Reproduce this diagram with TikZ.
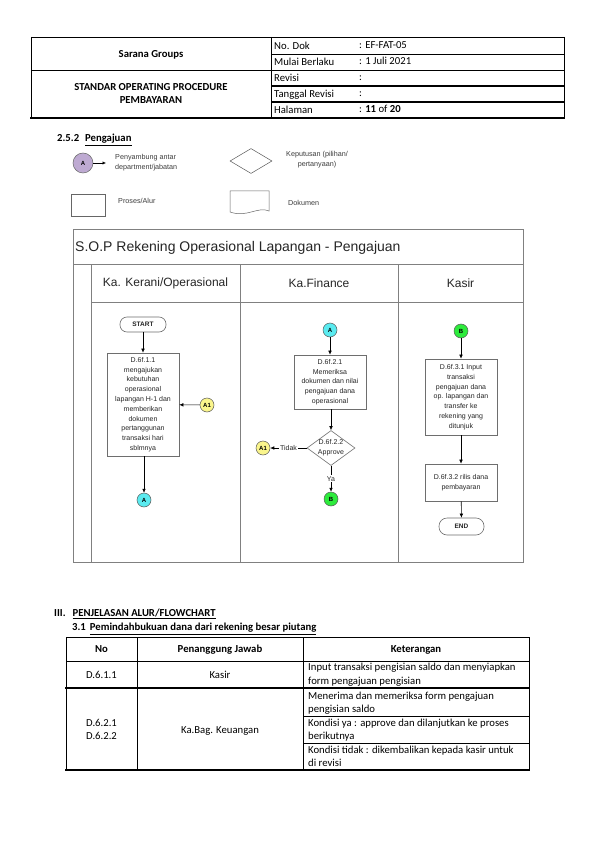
\documentclass[tikz,border=0pt]{standalone}
\usepackage{fontspec}
\setmainfont{Carlito}
\newfontfamily\arial{Liberation Sans}
\usetikzlibrary{shapes.geometric,arrows.meta}
\definecolor{fcgrey}{RGB}{128,128,128}
\definecolor{boxgrey}{RGB}{110,110,110}
\definecolor{cyanA}{RGB}{90,235,240}
\definecolor{yellowA}{RGB}{250,245,140}
\definecolor{greenB}{RGB}{45,235,60}
\definecolor{purpleA}{RGB}{190,170,210}
\definecolor{legtext}{RGB}{60,60,60}
\tikzset{
  doctext/.style={inner sep=0pt, anchor=base west, font=\fontsize{10.7}{14}\selectfont},
  docmid/.style={inner sep=0pt, anchor=base, font=\fontsize{10.7}{14}\selectfont},
  docbold/.style={inner sep=0pt, anchor=base, font=\bfseries\fontsize{10.7}{13}\selectfont},
  thinl/.style={line width=0.7pt},
  thickl/.style={line width=1.5pt},
  frame/.style={draw=fcgrey, line width=0.8pt},
  proc/.style={draw=boxgrey, fill=white, line width=0.6pt, align=center, inner sep=0pt,
    font=\arial\fontsize{7}{9.8}\selectfont, text=black!85},
  term/.style={draw=boxgrey, fill=white, line width=0.6pt, rounded corners=7pt, inner sep=0pt,
    font=\arial\bfseries\fontsize{6.5}{8}\selectfont, text=black!85},
  conn/.style={circle, draw=black!65, line width=0.5pt, minimum size=14pt, inner sep=0pt,
    font=\arial\bfseries\fontsize{6}{7}\selectfont},
  arr/.style={-{Latex[length=4pt,width=3.6pt]}, line width=0.55pt},
  lane/.style={inner sep=0pt, font=\arial\fontsize{12}{14}\selectfont, text=black!85},
  leg/.style={inner sep=0pt, align=center, font=\arial\fontsize{7.2}{10}\selectfont, text=legtext},
  flab/.style={inner sep=1pt, fill=white, font=\arial\fontsize{7}{8}\selectfont, text=black!85},
}
\begin{document}
\begin{tikzpicture}[x=1pt,y=-1pt]
\useasboundingbox[fill=white] (0,0) rectangle (595,842);

% ---------------- header table ----------------
\draw[thinl] (31,37) -- (564,37);
\draw[thinl] (31,37) -- (31,118);
\draw[thinl] (564,37) -- (564,118);
\draw[thinl] (271,37) -- (271,118);
\draw[thinl] (31,70) -- (564,70);
\draw[thinl] (271,54) -- (564,54);
\draw[thickl] (271,86) -- (564,86);
\draw[thickl] (271,102) -- (564,102);
\draw[thickl] (30.3,118) -- (564.7,118);

\node[docbold] (sg) at (151,57.5) {Sarana Groups};
\node[docbold] (sop1) at (151,91) {STANDAR OPERATING PROCEDURE};
\node[docbold] (sop2) at (151,104) {PEMBAYARAN};
\node[doctext] (l1) at (274,49.5) {No. Dok};
\node[doctext] (l2) at (274,66) {Mulai Berlaku};
\node[doctext] (l3) at (274,82) {Revisi};
\node[doctext] (l4) at (274,98) {Tanggal Revisi};
\node[doctext] (l5) at (274,114) {Halaman};
\node[doctext] (v1) at (359,48.5) {: EF-FAT-05};
\node[doctext] (v2) at (359,65) {: 1 Juli 2021};
\node[doctext] (v3) at (359,81) {:};
\node[doctext] (v4) at (359,97) {:};
\node[doctext] (v5) at (359,113) {: \textbf{11} of \textbf{20}};

% ---------------- legend ----------------
\node[docbold, anchor=base west] (h252) at (57,141.5) {2.5.2\hspace{6pt}\underline{Pengajuan}};

\node[circle, draw=black!60, fill=purpleA, line width=0.5pt, minimum size=20pt, inner sep=0pt,
  font=\arial\bfseries\fontsize{6}{7}\selectfont] (legA) at (83,163) {A};
\coordinate (legAend) at (106,163);
\draw[-{Latex[length=3.5pt,width=3.2pt]}, line width=0.5pt] (legA) -- (legAend);
\node[leg, align=left, anchor=west] (legAt) at (115,163) {Penyambung antar\\department/jabatan};

\node[diamond, draw=black!65, line width=0.5pt, minimum width=42pt, minimum height=25pt, inner sep=0pt] (legD) at (251,161) {};
\node[leg, anchor=west] (legDt) at (286,160) {Keputusan (pilihan/\\pertanyaan)};

\node[draw=black!60, line width=0.5pt, minimum width=34pt, minimum height=22pt, inner sep=0pt] (legP) at (88,205) {};
\node[leg, anchor=west] (legPt) at (118,201) {Proses/Alur};

\draw[draw=black!60, line width=0.5pt] (230,191) -- (269,191) -- (269,211)
   .. controls (258,206) and (247,218) .. (230,212) -- cycle;
\node[leg, anchor=west] (legDoct) at (288,203) {Dokumen};

% ---------------- flowchart frame ----------------
\draw[frame] (73,229) -- (523,229) -- (523,562) -- (73,562) -- cycle;
\draw[draw=fcgrey, line width=1.6pt] (73,264.5) -- (523,264.5);
\draw[frame] (91,264.5) -- (91,562);
\draw[frame] (240,264.5) -- (240,562);
\draw[frame] (398,264.5) -- (398,562);
\draw[frame] (91,302) -- (523,302);

\node[inner sep=0pt, anchor=west, font=\arial\fontsize{14}{16}\selectfont, text=black!85] (title) at (75,247.5) {S.O.P Rekening Operasional Lapangan - Pengajuan};
\node[lane] (lane1) at (165.5,283) {Ka. Kerani/Operasional};
\node[lane] (lane2) at (319,283) {Ka.Finance};
\node[lane] (lane3) at (460.5,283) {Kasir};

% lane 1
\node[term, minimum width=46pt, minimum height=15pt] (start) at (143,324.5) {START};
\node[proc, minimum width=72pt, minimum height=103pt] (p1) at (143,404.5)
  {D.6f.1.1\\mengajukan\\kebutuhan\\operasional\\lapangan H-1 dan\\memberikan\\dokumen\\pertanggunan\\transaksi hari\\sblmnya};
\node[conn, fill=yellowA] (a1a) at (207,405) {A1};
\node[conn, fill=cyanA] (aout) at (144,500) {A};
\draw[arr] (start) -- (p1);
\draw[arr] (a1a) -- (p1);
\draw[arr] (p1.south -| aout) -- (aout);

% lane 2
\node[conn, fill=cyanA] (ain) at (330,330) {A};
\node[proc, minimum width=72pt, minimum height=54pt] (p2) at (330,382)
  {D.6f.2.1\\Memeriksa\\dokumen dan nilai\\pengajuan dana\\operasional};
\node[diamond, draw=boxgrey, fill=white, line width=0.6pt, minimum width=48pt, minimum height=35pt, inner sep=0pt] (dec) at (331,448) {};
\node[proc, draw=none, fill=none] (dect) at (331,448) {D.6f.2.2\\Approve};
\node[conn, fill=yellowA] (a1b) at (263,448) {A1};
\node[conn, fill=greenB] (bout) at (331,499) {B};
\draw[arr] (ain) -- (p2.north -| ain);
\draw[arr] (p2.south -| dec) -- (dec.north);
\draw[arr] (dec.west) -- node[flab] (tidak) {Tidak} (a1b);
\draw[arr] (dec.south) -- node[flab] (ya) {Ya} (bout);

% lane 3
\node[conn, fill=greenB] (bin) at (461,331) {B};
\node[proc, minimum width=72pt, minimum height=76pt] (p3) at (461,397)
  {D.6f.3.1 Input\\transaksi\\pengajuan dana\\op. lapangan dan\\transfer ke\\rekening yang\\ditunjuk};
\node[proc, minimum width=72pt, minimum height=37pt] (p4) at (461,482.5)
  {D.6f.3.2 rilis dana\\pembayaran};
\node[term, minimum width=45pt, minimum height=17pt, rounded corners=8pt] (endn) at (461.5,526.5) {END};
\draw[arr] (bin) -- (p3);
\draw[arr] (p3) -- (p4);
\draw[arr] (p4) -- (endn);

% ---------------- section III ----------------
\node[docbold, anchor=base west] (s3) at (54,616.5) {III.\hspace{7pt}\underline{PENJELASAN ALUR/FLOWCHART}};
\node[docbold, anchor=base west] (s31) at (72,630.5) {3.1\hspace{4pt}\underline{Pemindahbukuan dana dari rekening besar piutang}};

% table
\draw[thinl] (66,637) -- (529,637);
\draw[thinl] (66,661) -- (529,661);
\draw[thinl] (66,637) -- (66,770);
\draw[thinl] (137,637) -- (137,770);
\draw[thinl] (303,637) -- (303,770);
\draw[thinl] (529,637) -- (529,770);
\draw[thinl] (303,716) -- (529,716);
\draw[thinl] (303,743) -- (529,743);
\draw[thickl] (65.3,688) -- (529.7,688);
\draw[thickl] (65.3,770) -- (529.7,770);

\node[docbold] (tno) at (101.5,652.5) {No};
\node[docbold] (tpj) at (220,652.5) {Penanggung Jawab};
\node[docbold] (tket) at (416,652.5) {Keterangan};

\node[docmid] (r1no) at (101.5,678) {D.6.1.1};
\node[docmid] (r1pj) at (220,678) {Kasir};
\node[doctext] (r1k1) at (308,670.5) {Input transaksi pengisian saldo dan menyiapkan};
\node[doctext] (r1k2) at (308,684.5) {form pengajuan pengisian};

\node[doctext] (r2no1) at (86,726) {D.6.2.1};
\node[doctext] (r2no2) at (86,739.5) {D.6.2.2};
\node[docmid] (r2pj) at (220,733) {Ka.Bag. Keuangan};
\node[doctext] (r2k1) at (308,699.5) {Menerima dan memeriksa form pengajuan};
\node[doctext] (r2k2) at (308,712.5) {pengisian saldo};
\node[doctext] (r2k3) at (308,726) {Kondisi ya : approve dan dilanjutkan ke proses};
\node[doctext] (r2k4) at (308,739.5) {berikutnya};
\node[doctext] (r2k5) at (308,753) {Kondisi tidak : dikembalikan kepada kasir untuk};
\node[doctext] (r2k6) at (308,766.5) {di revisi};
\end{tikzpicture}
\end{document}
